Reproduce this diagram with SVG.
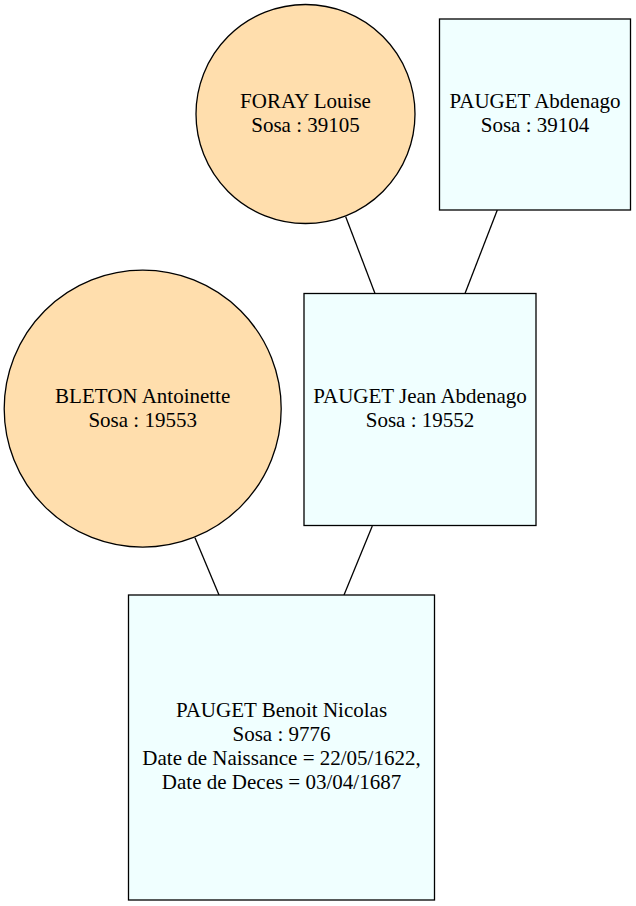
<svg xmlns="http://www.w3.org/2000/svg" width="636" height="906" viewBox="0 0 636 906">
<style>
.f{fill:#ffdead;stroke:#000;stroke-width:1.3}
.m{fill:#f0ffff;stroke:#000;stroke-width:1.3}
.e{stroke:#000;stroke-width:1.3;fill:none}
text{font-family:'Liberation Serif','Times New Roman',serif;font-size:21px;text-anchor:middle;fill:#000}
</style>
<rect width="636" height="906" fill="#fff"/>
<g id="edges">
<line class="e" x1="345.7" y1="216.7" x2="375" y2="293.5"/>
<line class="e" x1="497.3" y1="210" x2="465" y2="293.5"/>
<line class="e" x1="195" y1="537.7" x2="219" y2="595"/>
<line class="e" x1="372.3" y1="526" x2="344" y2="595"/>
</g>
<g id="foray">
<circle class="f" cx="305.5" cy="114" r="109.5"/>
<text x="305.5" y="108">FORAY Louise</text>
<text x="305.5" y="132">Sosa : 39105</text>
</g>
<g id="abdenago">
<rect class="m" x="439.5" y="19" width="191" height="191"/>
<text x="535" y="108">PAUGET Abdenago</text>
<text x="535" y="132">Sosa : 39104</text>
</g>
<g id="bleton">
<circle class="f" cx="142.7" cy="408.7" r="138.5"/>
<text x="142.7" y="402.7">BLETON Antoinette</text>
<text x="142.7" y="426.7">Sosa : 19553</text>
</g>
<g id="jean">
<rect class="m" x="304" y="293.5" width="232" height="232"/>
<text x="420" y="402.7">PAUGET Jean Abdenago</text>
<text x="420" y="426.7">Sosa : 19552</text>
</g>
<g id="benoit">
<rect class="m" x="128.5" y="595" width="306" height="305"/>
<text x="281.5" y="716.7">PAUGET Benoit Nicolas</text>
<text x="281.5" y="740.7">Sosa : 9776</text>
<text x="281.5" y="764.7">Date de Naissance = 22/05/1622,</text>
<text x="281.5" y="788.7">Date de Deces = 03/04/1687</text>
</g>
</svg>
